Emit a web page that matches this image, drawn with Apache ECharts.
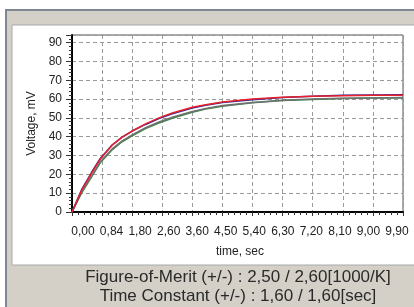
<!DOCTYPE html>
<html>
<head>
<meta charset="UTF-8">
<title></title>
<script src="https://cdn.jsdelivr.net/npm/echarts@6/dist/echarts.min.js"></script>
<style>
body { margin: 0; background: #fff; }
</style>
</head>
<body>
<div id="chart" style="width: 414px; height: 307px;"></div>
<script type="text/javascript">
// data
var times = [0, 0.3, 0.6, 0.84, 1.2, 1.5, 1.8, 2.2, 2.6, 3.0, 3.6, 4.0, 4.5, 5.4, 6.3, 7.2, 8.1, 9.0, 9.9];
var redVals = [0, 12, 21, 28, 35.5, 39.8, 43, 46.8, 50, 52.6, 55.6, 57, 58.4, 60, 61, 61.5, 61.8, 62, 62];
var blueVals = [0, 12.3, 21.5, 28.3, 35.6, 39.8, 43, 46.5, 49.6, 52.2, 55.2, 56.7, 58.1, 59.6, 60.8, 61.5, 62, 62.2, 62.3];
var grayVals = [0, 11, 19.5, 26.5, 33.5, 37.8, 41, 44.8, 47.8, 50.3, 53.4, 55, 56.5, 58.2, 59.3, 60, 60.4, 60.6, 60.8];
var greenVals = [0, 10.5, 19, 26, 33, 37.3, 40.5, 44.3, 47.3, 49.8, 53, 54.7, 56.2, 58, 59.2, 59.8, 60.3, 60.5, 60.6];
var xLabels = ['0,00', '0,84', '1,80', '2,60', '3,60', '4,50', '5,40', '6,30', '7,20', '8,10', '9,00', '9,90'];
var footLines = ['Figure-of-Merit (+/-) : 2,50 / 2,60[1000/K]', 'Time Constant (+/-) : 1,60 / 1,60[sec]'];

var font = 'Liberation Sans, Arial, sans-serif';

function pairs(vals) {
	return vals.map(function(v, i) { return [times[i], v]; });
}

var chart = echarts.init(document.getElementById('chart'));

var option = {
	animation: false,
	backgroundColor: '#fff',
	graphic: [
		// window frame
		{ type: 'rect', z: -10, shape: { x: 6, y: 10, width: 420, height: 310 },
			style: { fill: '#d4d0c8', stroke: '#7d8892', lineWidth: 2 } },
		{ type: 'rect', z: -9, shape: { x: 12, y: 25, width: 410, height: 240 },
			style: { fill: '#fff', stroke: '#a8a8a8', lineWidth: 1 } },
		{ type: 'text', z: 10, x: 238, y: 277,
			style: { text: footLines[0], font: '17px ' + font, fill: '#2a2a2a', align: 'center', verticalAlign: 'middle' } },
		{ type: 'text', z: 10, x: 238, y: 296,
			style: { text: footLines[1], font: '17px ' + font, fill: '#2a2a2a', align: 'center', verticalAlign: 'middle' } }
	],
	grid: [
		{ left: 72, right: 11, top: 35, bottom: 95, show: true, borderColor: '#555', borderWidth: 1, backgroundColor: '#fff' },
		{ left: 83, right: 17, top: 35, bottom: 95 }
	],
	xAxis: [{
		type: 'value',
		gridIndex: 0,
		min: 0,
		max: 9.9,
		interval: 0.9,
		axisLine: { lineStyle: { color: '#000', width: 2 } },
		axisTick: { length: 4, lineStyle: { color: '#333' } },
		minorTick: { show: true, splitNumber: 5, length: 3, lineStyle: { color: '#333' } },
		axisLabel: { show: false },
		splitLine: { lineStyle: { color: '#9a9a9a', type: [4, 3] } }
	}, {
		type: 'category',
		gridIndex: 1,
		data: xLabels,
		boundaryGap: false,
		name: 'time, sec',
		nameLocation: 'middle',
		nameGap: 34,
		nameTextStyle: { fontFamily: font, fontSize: 12, color: '#222' },
		axisLine: { show: false },
		axisTick: { show: false },
		axisLabel: { interval: 0, margin: 14, fontFamily: font, fontSize: 12, color: '#222' }
	}],
	yAxis: [{
		type: 'value',
		gridIndex: 0,
		min: 0,
		max: 94,
		interval: 10,
		name: 'Voltage, mV',
		nameLocation: 'middle',
		nameGap: 27,
		nameTextStyle: { fontFamily: font, fontSize: 12, color: '#222' },
		axisLine: { show: true, lineStyle: { color: '#000', width: 2 } },
		axisTick: { show: true, length: 6, lineStyle: { color: '#333' } },
		minorTick: { show: true, splitNumber: 5, length: 3, lineStyle: { color: '#333' } },
		axisLabel: {
			margin: 10, fontFamily: font, fontSize: 12, color: '#222',
			formatter: function(v) { return v % 10 === 0 ? v : ''; }
		},
		splitLine: { lineStyle: { color: '#9a9a9a', type: [4, 3] } }
	}, {
		type: 'value',
		gridIndex: 1,
		show: false
	}],
	series: [
		{ type: 'line', name: 'green', data: pairs(greenVals), showSymbol: false,
			lineStyle: { color: '#3f8a4a', width: 1.5 } },
		{ type: 'line', name: 'gray', data: pairs(grayVals), showSymbol: false,
			lineStyle: { color: '#707070', width: 1.5 } },
		{ type: 'line', name: 'blue', data: pairs(blueVals), showSymbol: false,
			lineStyle: { color: '#2b2b9a', width: 1.5 } },
		{ type: 'line', name: 'red', data: pairs(redVals), showSymbol: false,
			lineStyle: { color: '#e8202a', width: 1.5 } }
	]
};
chart.setOption(option);
</script>
</body>
</html>
